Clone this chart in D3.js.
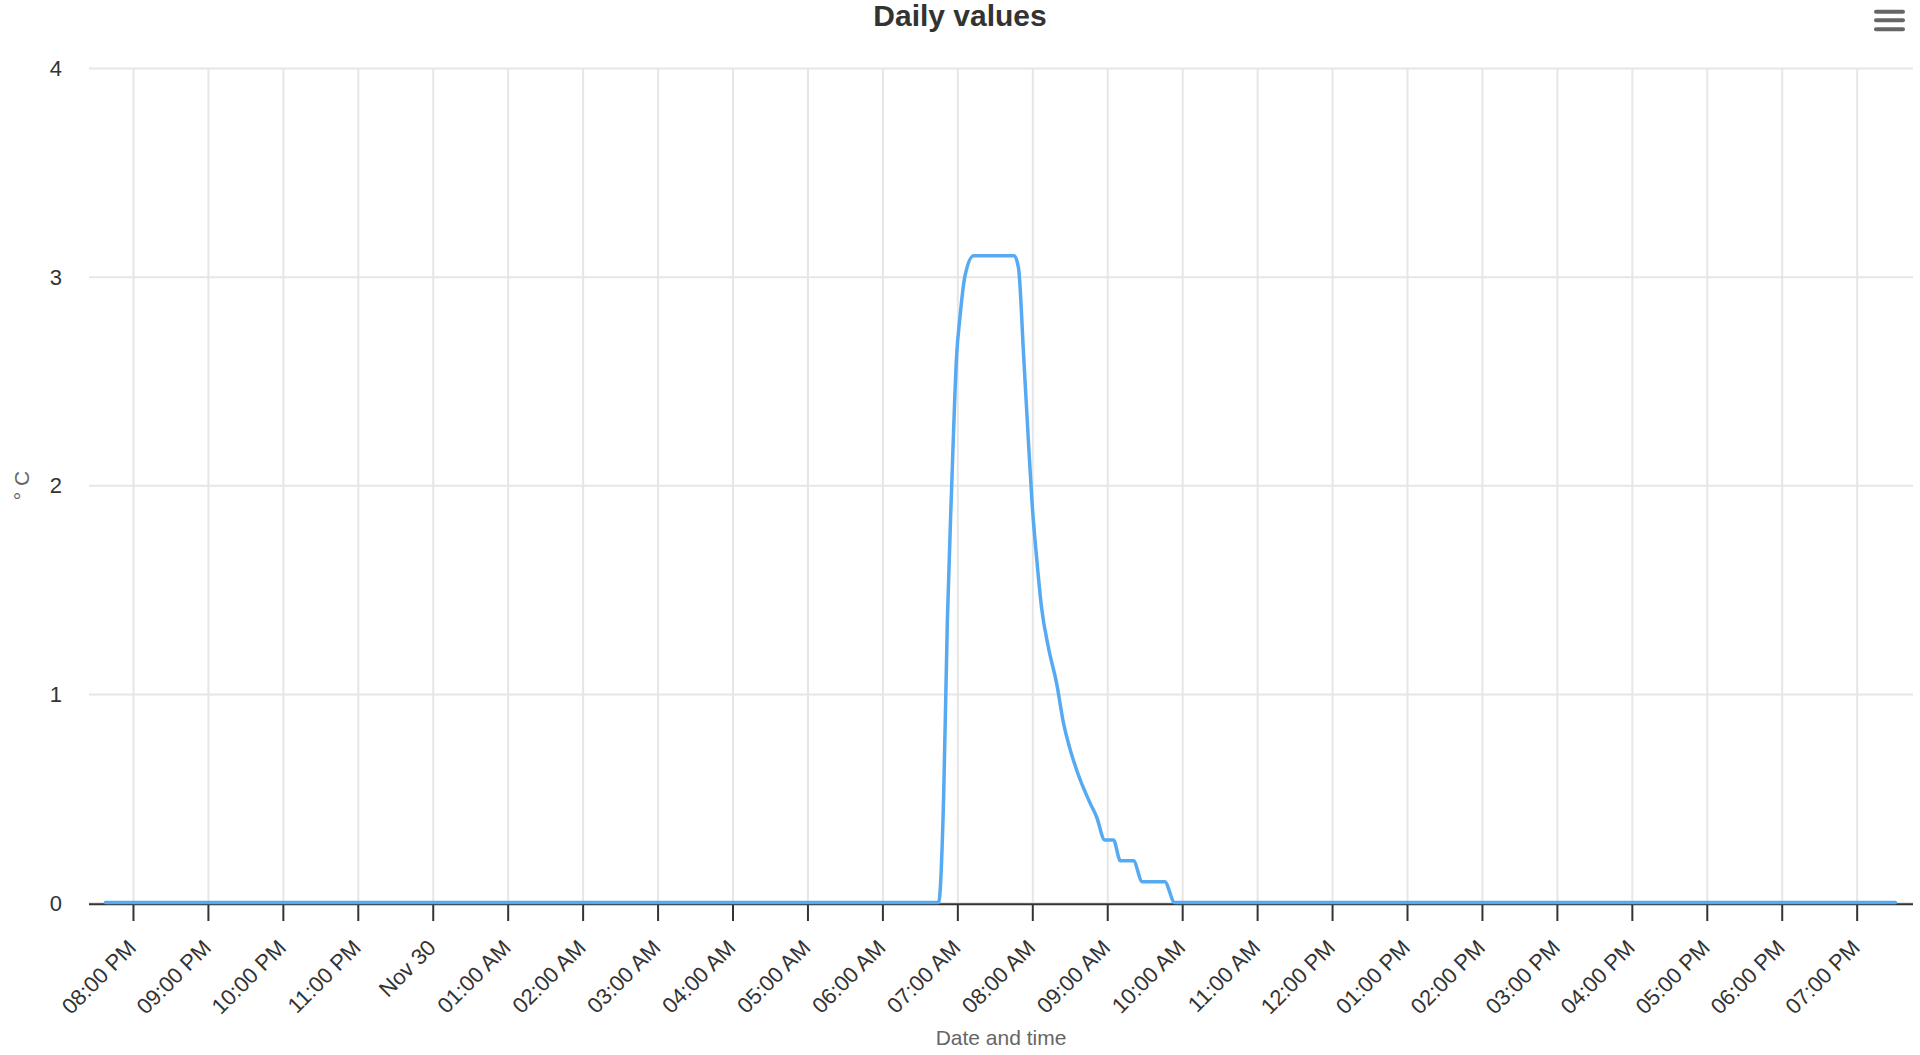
<!DOCTYPE html>
<html>
<head>
<meta charset="utf-8">
<title>Daily values</title>
<script src="https://cdn.jsdelivr.net/npm/d3@7"></script>
<style>
    body { margin: 0; background: #fff; font-family: "Liberation Sans", Arial, Helvetica, sans-serif; }
    svg { display: block; }
    .chart-title { font-size: 30px; font-weight: bold; fill: #333; text-anchor: middle; }
    .axis-title { font-size: 21px; fill: #666; text-anchor: middle; }
    .grid line { stroke: #e6e6e6; stroke-width: 2; }
    .grid path { display: none; }
    .axis text { font-size: 22px; fill: #333; }
    .y-axis path, .y-axis line { display: none; }
    .x-axis path { display: none; }
    .x-axis line { stroke: #333; stroke-width: 2; }
    .series { fill: none; stroke: #55aaf2; stroke-width: 3.5; stroke-linejoin: round; stroke-linecap: round; }
</style>
</head>
<body>
<svg id="chart"></svg>
<script>
// readings (local time) and temperature values
const times = [
    '2023-11-29T19:38:00', '2023-11-30T06:45:00', '2023-11-30T06:49:00', '2023-11-30T06:52:00',
    '2023-11-30T06:55:30', '2023-11-30T06:59:30', '2023-11-30T07:02:00', '2023-11-30T07:06:00',
    '2023-11-30T07:13:00', '2023-11-30T07:45:30', '2023-11-30T07:49:00', '2023-11-30T07:53:00',
    '2023-11-30T07:57:00', '2023-11-30T08:00:00', '2023-11-30T08:03:30', '2023-11-30T08:07:30',
    '2023-11-30T08:13:00', '2023-11-30T08:19:30', '2023-11-30T08:25:00', '2023-11-30T08:30:00',
    '2023-11-30T08:37:00', '2023-11-30T08:46:00', '2023-11-30T08:51:30', '2023-11-30T08:58:00',
    '2023-11-30T09:05:00', '2023-11-30T09:10:30', '2023-11-30T09:21:00', '2023-11-30T09:28:00',
    '2023-11-30T09:46:00', '2023-11-30T09:54:00', '2023-11-30T19:31:00'
];
const values = [
    0, 0, 0.5, 1.35,
    2.0, 2.63, 2.8, 3.0,
    3.1, 3.1, 3.04, 2.63,
    2.2, 1.9, 1.65, 1.41,
    1.22, 1.05, 0.86, 0.74,
    0.61, 0.48, 0.41, 0.3,
    0.3, 0.2, 0.2, 0.1,
    0.1, 0, 0
];
const xExtent = ['2023-11-29T19:24:48', '2023-11-30T19:45:06'];
const yTicks = [0, 1, 2, 3, 4];

class LineChart {

    constructor(_config, _data) {
        this.config = {
            parentElement: _config.parentElement,
            containerWidth: _config.containerWidth || 1920,
            containerHeight: _config.containerHeight || 1055,
            margin: _config.margin || { top: 68, right: 7, bottom: 152, left: 89 }
        }
        this.data = _data;
        this.initVis();
    }

    initVis() {
        let vis = this;

        vis.width = vis.config.containerWidth - vis.config.margin.left - vis.config.margin.right;
        vis.height = vis.config.containerHeight - vis.config.margin.top - vis.config.margin.bottom;

        vis.svg = d3.select(vis.config.parentElement)
            .attr('width', vis.config.containerWidth)
            .attr('height', vis.config.containerHeight);

        vis.chart = vis.svg.append('g')
            .attr('transform', `translate(${vis.config.margin.left},${vis.config.margin.top})`);

        vis.xScale = d3.scaleTime()
            .domain(xExtent.map(d => new Date(d)))
            .range([0, vis.width]);

        vis.yScale = d3.scaleLinear()
            .domain([0, 4])
            .range([vis.height - 0.5, 0]);

        // gridlines
        vis.chart.append('g')
            .attr('class', 'grid')
            .call(d3.axisLeft(vis.yScale).tickValues(yTicks).tickSize(-vis.width).tickFormat(''));

        vis.chart.append('g')
            .attr('class', 'grid')
            .call(d3.axisTop(vis.xScale).ticks(d3.timeHour.every(1)).tickSize(-vis.height).tickFormat(''));

        // x axis line
        vis.chart.append('line')
            .attr('x1', 0)
            .attr('x2', vis.width)
            .attr('y1', vis.height + 1.3)
            .attr('y2', vis.height + 1.3)
            .attr('stroke', '#333')
            .attr('stroke-width', 2);

        const fmtHour = d3.timeFormat('%I:%M %p');
        const fmtDay = d3.timeFormat('%b %d');
        vis.xAxis = d3.axisBottom(vis.xScale)
            .ticks(d3.timeHour.every(1))
            .tickSize(17)
            .tickFormat(d => d.getHours() === 0 ? fmtDay(d) : fmtHour(d));

        vis.xAxisG = vis.chart.append('g')
            .attr('class', 'axis x-axis')
            .attr('transform', `translate(0,${vis.height + 1})`)
            .call(vis.xAxis);

        vis.xAxisG.selectAll('text')
            .attr('text-anchor', 'end')
            .attr('dy', null)
            .attr('y', 0)
            .attr('transform', 'translate(4,45) rotate(-45)');

        vis.yAxis = d3.axisLeft(vis.yScale)
            .tickValues(yTicks)
            .tickFormat(d3.format('d'))
            .tickSize(0)
            .tickPadding(27);

        vis.chart.append('g')
            .attr('class', 'axis y-axis')
            .call(vis.yAxis)
            .selectAll('text')
            .attr('dy', '0.35em');

        // title
        vis.svg.append('text')
            .attr('class', 'chart-title')
            .attr('x', vis.config.containerWidth / 2)
            .attr('y', 26)
            .text('Daily values');

        // axis titles
        vis.svg.append('text')
            .attr('class', 'axis-title')
            .attr('transform', `translate(29,${vis.config.margin.top + vis.height / 2}) rotate(-90)`)
            .text('° C');

        vis.svg.append('text')
            .attr('class', 'axis-title')
            .attr('x', vis.config.margin.left + vis.width / 2)
            .attr('y', 1045)
            .text('Date and time');

        // context menu icon
        vis.svg.append('g')
            .selectAll('line')
            .data([11.7, 20.3, 29.3])
            .join('line')
            .attr('x1', 1876)
            .attr('x2', 1903)
            .attr('y1', d => d)
            .attr('y2', d => d)
            .attr('stroke', '#666')
            .attr('stroke-width', 4)
            .attr('stroke-linecap', 'round');

        vis.renderVis();
    }

    renderVis() {
        let vis = this;

        vis.line = d3.line()
            .x(d => vis.xScale(d.time))
            .y(d => vis.yScale(d.value))
            .curve(d3.curveMonotoneX);

        vis.chart.append('path')
            .datum(vis.data)
            .attr('class', 'series')
            .attr('d', vis.line);
    }
}

const data = times.map((t, i) => ({ time: new Date(t), value: values[i] }));

new LineChart({ parentElement: '#chart' }, data);
</script>
</body>
</html>
